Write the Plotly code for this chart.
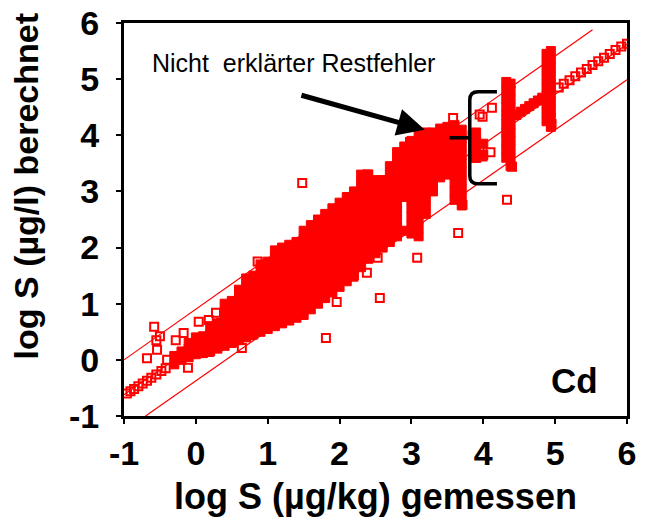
import plotly.graph_objects as go

# --- Fit line and prediction band (end points in log units) ---
mid_x = [-1.0, 6.0]
mid_y = [-0.62, 5.62]
upper_x = [-1.0, 5.52]
upper_y = [0.0, 5.88]
lower_x = [-0.7, 6.0]
lower_y = [-1.0, 4.99]

# --- Axis ticks ---
tick_vals = [-1, 0, 1, 2, 3, 4, 5, 6]
tick_text = ["-1", "0", "1", "2", "3", "4", "5", "6"]

# --- Densely overlapping samples: x position and the y values stacked there ---
core_col_x = [-0.3, -0.2, -0.1, 0.0, 0.1, 0.2, 0.3, 0.4, 0.5, 0.6, 0.7, 0.8, 0.9,
              1.0, 1.1, 1.2, 1.3, 1.4, 1.5, 1.6, 1.7, 1.8, 1.9, 2.0, 2.1, 2.2,
              2.3, 2.4, 2.5, 2.6, 2.7, 2.8, 2.9, 3.0, 3.1, 3.2, 3.3, 3.4, 3.5,
              3.6, 3.7, 3.9, 4.0, 4.32, 4.38, 4.46, 4.52, 4.58, 4.64, 4.7,
              4.76, 4.82, 4.88, 4.94]
core_col_y = [
    [-0.08, 0.07],
    [0.0, 0.15],
    [0.05, 0.2, 0.3],
    [0.1, 0.25, 0.4],
    [0.12, 0.27, 0.42],
    [0.15, 0.3, 0.45, 0.6],
    [0.2, 0.35, 0.5, 0.65],
    [0.25, 0.4, 0.55, 0.7, 0.85, 1.0],
    [0.3, 0.45, 0.6, 0.75, 0.9, 1.05],
    [0.35, 0.5, 0.65, 0.8, 0.95, 1.1, 1.25],
    [0.4, 0.55, 0.7, 0.85, 1.0, 1.15, 1.3, 1.45],
    [0.45, 0.6, 0.75, 0.9, 1.05, 1.2, 1.35, 1.5],
    [0.5, 0.65, 0.8, 0.95, 1.1, 1.25, 1.4, 1.55, 1.7],
    [0.55, 0.7, 0.85, 1.0, 1.15, 1.3, 1.45, 1.6, 1.75],
    [0.6, 0.75, 0.9, 1.05, 1.2, 1.35, 1.5, 1.65, 1.8, 1.95],
    [0.65, 0.8, 0.95, 1.1, 1.25, 1.4, 1.55, 1.7, 1.85, 2.0],
    [0.7, 0.85, 1.0, 1.15, 1.3, 1.45, 1.6, 1.75, 1.9, 2.05],
    [0.75, 0.9, 1.05, 1.2, 1.35, 1.5, 1.65, 1.8, 1.95, 2.1],
    [0.8, 0.95, 1.1, 1.25, 1.4, 1.55, 1.7, 1.85, 2.0, 2.15, 2.3],
    [0.9, 1.05, 1.2, 1.35, 1.5, 1.65, 1.8, 1.95, 2.1, 2.25, 2.4],
    [1.0, 1.15, 1.3, 1.45, 1.6, 1.75, 1.9, 2.05, 2.2, 2.35, 2.5],
    [1.1, 1.25, 1.4, 1.55, 1.7, 1.85, 2.0, 2.15, 2.3, 2.45, 2.6],
    [1.2, 1.35, 1.5, 1.65, 1.8, 1.95, 2.1, 2.25, 2.4, 2.55, 2.7],
    [1.3, 1.45, 1.6, 1.75, 1.9, 2.05, 2.2, 2.35, 2.5, 2.65, 2.8],
    [1.4, 1.55, 1.7, 1.85, 2.0, 2.15, 2.3, 2.45, 2.6, 2.75, 2.9],
    [1.5, 1.65, 1.8, 1.95, 2.1, 2.25, 2.4, 2.55, 2.7, 2.85, 3.0],
    [1.65, 1.8, 1.95, 2.1, 2.25, 2.4, 2.55, 2.7, 2.85, 3.0, 3.15, 3.3],
    [1.8, 1.95, 2.1, 2.25, 2.4, 2.55, 2.7, 2.85, 3.0, 3.15, 3.3],
    [1.9, 2.05, 2.2, 2.35, 2.5, 2.65, 2.8, 2.95, 3.1, 3.2],
    [2.0, 2.15, 2.3, 2.45, 2.6, 2.75, 2.9, 3.05, 3.2],
    [2.1, 2.25, 2.4, 2.55, 2.7, 2.85, 3.0, 3.15, 3.3, 3.45],
    [2.2, 2.35, 2.5, 2.65, 2.8, 2.95, 3.1, 3.25, 3.4, 3.55, 3.7],
    [2.3, 2.9, 3.05, 3.2, 3.35, 3.5, 3.65, 3.8],
    [2.25, 2.4, 2.55, 2.7, 2.85, 3.0, 3.15, 3.3, 3.45, 3.6, 3.75, 3.9],
    [2.2, 2.35, 2.5, 2.65, 2.8, 2.95, 3.1, 3.25, 3.4, 3.55, 3.7, 3.85, 4.0],
    [2.6, 2.75, 2.9, 3.05, 3.2, 3.35, 3.5, 3.65, 3.8, 3.95, 4.05],
    [3.0, 3.15, 3.3, 3.45, 3.6, 3.75, 3.9, 4.05],
    [3.25, 3.4, 3.55, 3.7, 3.85, 4.0, 4.12],
    [3.3, 3.45, 3.6, 3.75, 3.9, 4.05, 4.15],
    [2.85, 3.0, 3.15, 3.3, 3.45, 3.6, 3.75, 3.9, 4.05, 4.18],
    [2.75, 2.9, 3.05, 3.2, 3.35, 3.5, 3.65, 3.8, 3.95, 4.1],
    [3.6, 3.75, 3.9, 4.05],
    [3.65, 3.85],
    [3.6, 3.75, 3.9, 4.05, 4.2, 4.35, 4.5, 4.65, 4.8, 4.95],
    [3.45, 3.6, 3.75, 3.9, 4.05, 4.2, 4.35, 4.5, 4.65, 4.8, 4.92],
    [4.36], [4.42], [4.47], [4.52], [4.57], [4.62], [4.67],
    [4.25, 4.4, 4.55, 4.7, 4.85, 5.0, 5.15, 5.3, 5.45],
    [4.15, 4.3, 4.45, 4.6, 4.75, 4.9, 5.05, 5.2, 5.35, 5.5],
]

# --- Individually visible samples ---
single_x = [-0.96, -0.91, -0.86, -0.8, -0.74, -0.68, -0.62, -0.55, -0.48, -0.42,
            -0.58, -0.68, -0.54, -0.55, -0.5, -0.28, -0.17, -0.40, -0.11, 0.04,
            0.0, 0.07, 0.18, 0.18, 0.28, 0.35, 0.49, 0.5, 0.64, 0.74, 0.9, 1.25,
            0.06, 0.75, 1.31, 1.68, 1.96, 2.19, 0.86, 1.17, 1.27, 1.66, 2.18,
            2.56, 2.74, 2.39, 2.98, 3.37, 3.58, 3.71, 1.48, 3.65, 3.08, 2.56,
            1.81, 2.53, 2.38, 4.33, 3.95, 4.12, 3.85, 3.95, 3.9, 4.1, 3.99,
            3.99, 4.4, 4.9, 4.95, 5.05, 5.12, 5.2, 5.28, 5.36, 5.44, 5.52,
            5.6, 5.68, 5.76, 5.84, 5.92, 6.0]
single_y = [-0.6, -0.56, -0.52, -0.47, -0.42, -0.37, -0.32, -0.26, -0.2, -0.15,
            0.59, 0.03, 0.18, 0.35, 0.42, 0.35, 0.48, 0.0, -0.14, 0.68,
            0.32, 0.14, 0.14, 0.71, 0.84, 0.66, 0.53, 0.32, 0.21, 0.44, 0.57, 0.98,
            0.12, 0.59, 0.76, 1.03, 1.03, 1.48, 1.75, 1.64, 1.9, 2.37, 2.76,
            3.2, 2.85, 3.3, 3.88, 3.65, 4.31, 2.76, 3.15, 2.26, 1.82, 1.1,
            0.39, 1.82, 1.55, 2.85, 4.37, 4.49, 4.0, 3.8, 3.6, 3.7, 4.33,
            3.62, 3.44, 4.37, 4.2, 4.85, 4.92, 4.98, 5.05, 5.12, 5.18, 5.25,
            5.32, 5.38, 5.45, 5.52, 5.58, 5.63]

RED = "#FF0000"
FONT = "Liberation Sans, Arial, sans-serif"

core_x, core_y = [], []
for cx, ys in zip(core_col_x, core_col_y):
    for cy in ys:
        core_x.append(cx)
        core_y.append(cy)

fig = go.Figure()

for lx, ly in [(upper_x, upper_y), (mid_x, mid_y), (lower_x, lower_y)]:
    fig.add_trace(go.Scatter(x=lx, y=ly, mode="lines",
                             line=dict(color=RED, width=1.2),
                             hoverinfo="skip", showlegend=False))

fig.add_trace(go.Scatter(x=core_x, y=core_y, mode="markers",
                         marker=dict(symbol="square", size=9, color=RED,
                                     line=dict(color=RED, width=1)),
                         showlegend=False))
fig.add_trace(go.Scatter(x=single_x, y=single_y, mode="markers",
                         marker=dict(symbol="square-open", size=8, color=RED,
                                     line=dict(color=RED, width=2)),
                         showlegend=False))

axis_common = dict(
    range=[-1, 6], tickmode="array", tickvals=tick_vals, ticktext=tick_text,
    showgrid=False, zeroline=False, showline=True, linecolor="black",
    linewidth=3, mirror=True, ticks="outside", ticklen=5, tickwidth=2,
    tickcolor="black",
    tickfont=dict(family=FONT, size=34, color="black", weight="bold"),
)

fig.update_xaxes(**axis_common, ticklabelstandoff=0,
                 title=dict(text="log S (µg/kg) gemessen", standoff=14,
                            font=dict(family=FONT, size=36, color="black",
                                      weight="bold")))
fig.update_yaxes(**axis_common, ticklabelstandoff=10)

# bracket marking the unexplained residual spread
bracket = ("M 4.19,4.775 L 3.93,4.775 Q 3.812,4.775 3.812,4.63 "
           "L 3.812,3.28 Q 3.812,3.135 3.93,3.135 L 4.19,3.135 "
           "M 3.812,3.955 L 3.53,3.955")
fig.add_shape(type="path", path=bracket, xref="x", yref="y",
              line=dict(color="black", width=3.5))

fig.add_annotation(x=3.186, y=4.098, ax=1.448, ay=4.72, xref="x", yref="y",
                   axref="x", ayref="y", text="", showarrow=True,
                   arrowhead=2, arrowsize=1.1, arrowwidth=5,
                   arrowcolor="black")
fig.add_annotation(x=-0.64, y=5.29, xref="x", yref="y", xanchor="left",
                   yanchor="middle", showarrow=False,
                   text="Nicht\u00a0 erklärter Restfehler",
                   font=dict(family=FONT, size=25, color="black"))
fig.add_annotation(x=5.27, y=-0.36, xref="x", yref="y", showarrow=False,
                   text="Cd", font=dict(family=FONT, size=35, color="black",
                                        weight="bold"))
fig.add_annotation(x=-0.193, y=0.584, xref="paper", yref="paper",
                   xanchor="center", yanchor="middle", textangle=-90,
                   showarrow=False, text="log S (µg/l) berechnet",
                   font=dict(family=FONT, size=34, color="black",
                             weight="bold"))

fig.update_layout(width=645, height=524,
                  margin=dict(l=124, r=18, t=23, b=108, autoexpand=False),
                  paper_bgcolor="white", plot_bgcolor="white",
                  showlegend=False)

fig.write_html("out.html")
